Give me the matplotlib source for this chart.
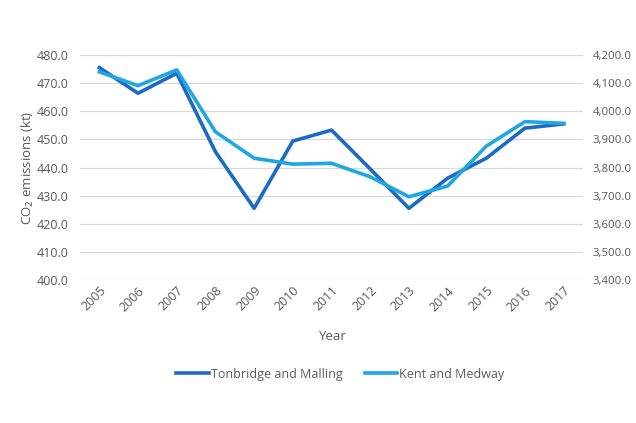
import matplotlib
matplotlib.use("Agg")
import matplotlib.pyplot as plt
from matplotlib.ticker import FuncFormatter

years = ["2005", "2006", "2007", "2008", "2009", "2010", "2011",
         "2012", "2013", "2014", "2015", "2016", "2017"]
tonbridge = [475.5, 466.4, 473.5, 445.6, 425.5, 449.4, 453.3,
             439.5, 425.5, 436.2, 443.3, 454.0, 455.5]
kent = [4140, 4091, 4147, 3927, 3833, 3812, 3815,
        3767, 3696, 3734, 3876, 3963, 3957]

plt.rcParams['font.family'] = ['Open Sans', 'DejaVu Sans']
grey = '#595959'
c_dark = '#1a6ac6'
c_light = '#1ea7e1'

fig = plt.figure(figsize=(6.36, 4.23), dpi=100)
ax = fig.add_axes([0.1258, 0.338, 0.7909, 0.532])
ax2 = ax.twinx()

x = list(range(len(years)))
l1, = ax.plot(x, tonbridge, color=c_dark, lw=2.6, label='Tonbridge and Malling', zorder=3)
l2, = ax2.plot(x, kent, color=c_light, lw=2.6, label='Kent and Medway', zorder=3)

ax.set_xlim(-0.5, len(years) - 0.5)
ax.set_ylim(400, 480)
ax.set_yticks(range(400, 481, 10))
ax.yaxis.set_major_formatter(FuncFormatter(lambda v, p: f"{v:.1f}"))
ax2.set_ylim(3400, 4200)
ax2.set_yticks(range(3400, 4201, 100))
ax2.yaxis.set_major_formatter(FuncFormatter(lambda v, p: f"{v:,.1f}"))

ax.set_xticks(x)
ax.set_xticklabels(years, rotation=45, ha='right', rotation_mode='anchor')

ax.grid(axis='y', color='#d9d9d9', lw=0.9)
ax.set_axisbelow(True)
for a in (ax, ax2):
    for s in a.spines.values():
        s.set_visible(False)
    a.tick_params(length=0, colors=grey, labelsize=9)
ax.tick_params(axis='y', pad=8)
ax.tick_params(axis='x', pad=3)
ax2.tick_params(axis='y', pad=7, labelsize=8.2)

ax.set_ylabel("CO$_2$ emissions (kt)", color=grey, fontsize=9.5, labelpad=1)
ax.set_xlabel("Year", color=grey, fontsize=9.5, labelpad=12)

fig.legend(handles=[l1, l2], loc='center', bbox_to_anchor=(0.535, 0.115), ncol=2,
           frameon=False, fontsize=9, labelcolor=grey, handlelength=2.6,
           handletextpad=0.15, columnspacing=1.8)

fig.savefig("out.png", dpi=100, facecolor='white')
